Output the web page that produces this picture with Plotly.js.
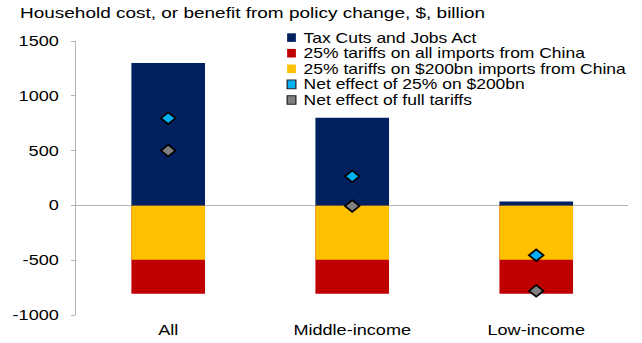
<!DOCTYPE html>
<html>
<head>
<meta charset="utf-8">
<script src="https://cdn.plot.ly/plotly-3.0.1.min.js"></script>
<style>
  html, body { margin: 0; padding: 0; background: #fff; overflow: hidden; }
  /* the chart is laid out narrow and widened, giving the wide lettering of the original */
  #chart { width: 514px; height: 343px; transform: scaleX(1.249); transform-origin: 0 0; }
</style>
</head>
<body>
<div id="chart"></div>
<script>
// Household groups
const groups = ["All", "Middle-income", "Low-income"];

// Series values, $ billion
const taxCutsJobsAct   = [1300, 800, 35];
const tariffsAllChina  = [-805, -805, -805];
const tariffs200bn     = [-495, -495, -495];
const netEffect200bn   = [795, 265, -455];
const netEffectFull    = [500, -5, -780];

const seriesNames = [
  "Tax Cuts and Jobs Act",
  "25% tariffs on all imports from China",
  "25% tariffs on $200bn imports from China",
  "Net effect of 25% on $200bn",
  "Net effect of full tariffs"
];

const yTicks = [-1000, -500, 0, 500, 1000, 1500];

const NAVY = "#002060", RED = "#C00000", YELLOW = "#FFC000", CYAN = "#00B0F0", GREY = "#808080";
const seriesColors = [NAVY, RED, YELLOW, CYAN, GREY];
const outlined = [false, false, false, true, true];

const FONT = "Liberation Sans, Arial, sans-serif";

const traces = [
  { type: "bar", x: groups, y: tariffsAllChina, name: seriesNames[1],
    marker: { color: RED }, hoverinfo: "skip" },
  { type: "bar", x: groups, y: tariffs200bn, name: seriesNames[2],
    marker: { color: YELLOW }, hoverinfo: "skip" },
  { type: "bar", x: groups, y: taxCutsJobsAct, name: seriesNames[0],
    marker: { color: NAVY }, hoverinfo: "skip" },
  { type: "scatter", mode: "markers", x: groups, y: netEffect200bn, name: seriesNames[3],
    cliponaxis: false,
    marker: { symbol: "diamond", size: 9, color: CYAN, line: { color: "#000", width: 1.6 } } },
  { type: "scatter", mode: "markers", x: groups, y: netEffectFull, name: seriesNames[4],
    cliponaxis: false,
    marker: { symbol: "diamond", size: 9, color: GREY, line: { color: "#000", width: 1.6 } } }
];

// plot box in layout pixels
const L = 61, R = 11, T = 41, B = 28, W = 514, H = 343;
const plotW = W - L - R, plotH = H - T - B;
const px2x = p => (p - L) / plotW;
const px2y = p => (H - B - p) / plotH;

// hand-built legend: swatch + label per series
const legendRows = [37.6, 53.2, 68.8, 84.4, 100.0];
const shapes = [];
const annotations = [];
seriesNames.forEach((name, i) => {
  shapes.push({
    type: "rect", xref: "paper", yref: "paper",
    xsizemode: "pixel", ysizemode: "pixel",
    xanchor: px2x(233.4), yanchor: px2y(legendRows[i]),
    x0: -3.5, x1: 3.5, y0: -4.3, y1: 4.3,
    fillcolor: seriesColors[i],
    line: outlined[i] ? { color: "#222", width: 1 } : { width: 0 }
  });
  annotations.push({
    xref: "paper", yref: "paper",
    x: px2x(241.3), y: px2y(legendRows[i]),
    xanchor: "left", yanchor: "middle", showarrow: false,
    text: name, font: { family: FONT, size: 14, color: "#000" }
  });
});

const yRange = [-1000, 1500];

const layout = {
  width: W, height: H,
  margin: { l: L, r: R, t: T, b: B },
  paper_bgcolor: "#fff", plot_bgcolor: "#fff",
  showlegend: false,
  barmode: "overlay",
  bargap: 0.6,
  font: { family: FONT, size: 14.5, color: "#000" },
  title: {
    text: "Household cost, or benefit from policy change, $, billion",
    x: 16 / W, xref: "container", xanchor: "left",
    y: 1 - 13 / H, yref: "container", yanchor: "middle",
    font: { family: FONT, size: 15.2, color: "#000" }
  },
  xaxis: {
    type: "category",
    showline: false, showgrid: false, zeroline: false,
    ticks: "", tickfont: { size: 14.5 },
    ticklabelstandoff: 5
  },
  // category dividers sitting on the zero line
  xaxis2: {
    overlaying: "x", anchor: "free",
    position: (0 - yRange[0]) / (yRange[1] - yRange[0]),
    range: [-0.5, groups.length - 0.5],
    tickvals: [0.5, 1.5], showticklabels: false,
    ticks: "outside", ticklen: 3, tickcolor: "#b3b3b3", tickwidth: 1,
    showline: false, showgrid: false, zeroline: false
  },
  yaxis: {
    range: yRange,
    tickvals: yTicks, ticktext: yTicks.map(String),
    showline: true, linecolor: "#b3b3b3", linewidth: 1,
    ticks: "outside", ticklen: 3, tickcolor: "#b3b3b3", tickwidth: 1,
    ticklabelstandoff: 7,
    showgrid: false,
    zeroline: true, zerolinecolor: "#b3b3b3", zerolinewidth: 1.2,
    tickfont: { size: 14.5 }
  },
  shapes: shapes,
  annotations: annotations
};

Plotly.newPlot("chart", traces, layout, { staticPlot: true, displayModeBar: false });
</script>
</body>
</html>
